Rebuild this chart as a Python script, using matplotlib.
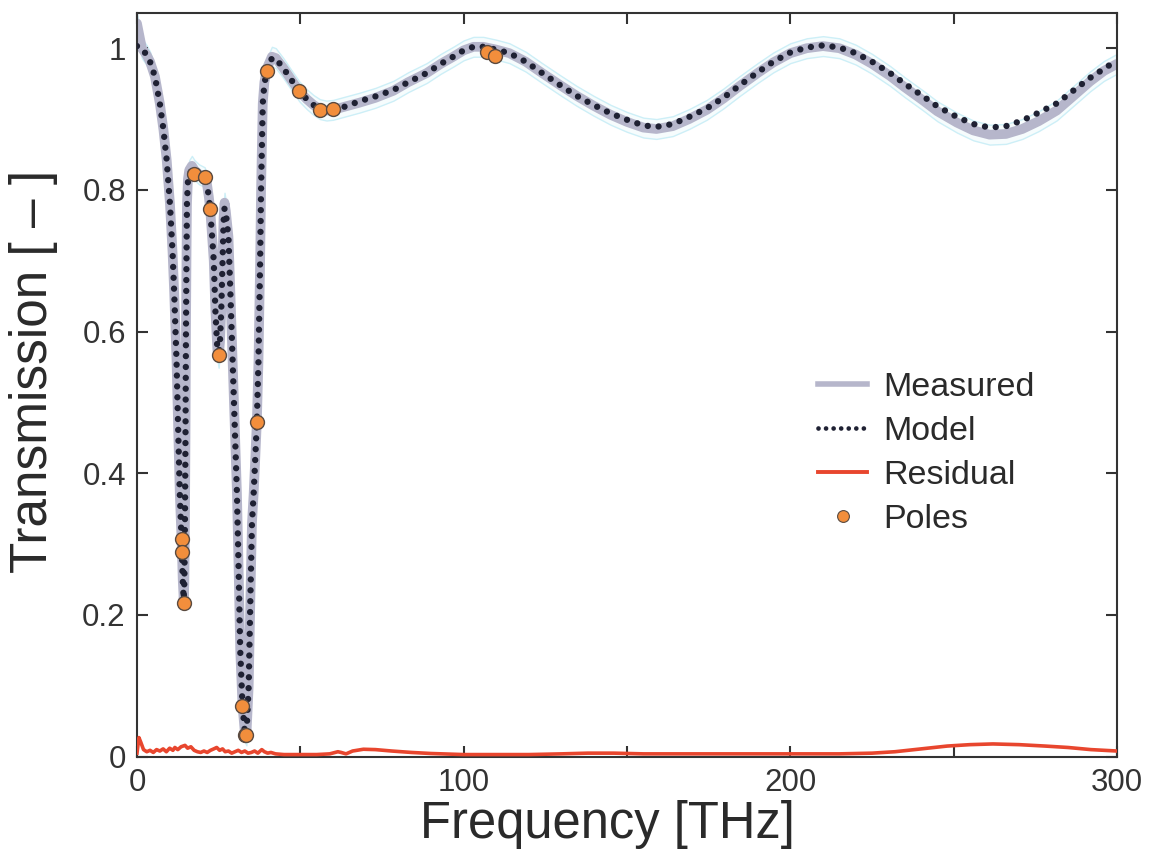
import matplotlib
matplotlib.use("Agg")
import matplotlib.pyplot as plt
from matplotlib.lines import Line2D

plt.rcParams['font.family'] = ['Liberation Sans', 'DejaVu Sans']

# ---------------- data ----------------
freq = [0, 1.5, 3, 4, 5.5, 7, 8.1, 9.1, 10.1, 10.9, 11.4, 12.1, 12.6, 13.1, 13.7,
        14.0, 14.3, 14.5, 14.7, 14.85, 15.0, 15.15, 15.3, 15.6, 16.0, 16.8, 17.6,
        19.0, 20.7, 21.4, 22.0, 22.4, 23.0, 23.5, 24.0, 24.6, 25.0, 25.4, 25.8,
        26.2, 26.5, 26.8, 27.2, 28.0, 28.6, 29.6, 30.6, 31.1, 31.6, 32.3, 33.0,
        33.5, 34.2, 34.7, 35.2, 35.7, 36.2, 36.7, 37.2, 37.7, 38.0, 38.5, 39.0,
        39.8, 41.3, 42.5, 44.8, 47, 49.7, 52, 54, 56, 58, 60, 64, 68, 73, 78.5,
        83, 88.7, 93, 96.8, 100, 103, 106, 110, 114, 119, 124, 129.5, 134.5,
        139.7, 145, 150, 155, 159, 164, 169, 174.4, 179.5, 184.6, 190, 194.8,
        200, 205, 210, 215, 220, 225, 230.5, 235, 240.7, 245, 251, 256, 261,
        266, 271, 276, 281.5, 286, 291.7, 296, 300]

model = [1.003, 1.000, 0.990, 0.981, 0.960, 0.922, 0.885, 0.842, 0.780, 0.711,
         0.654, 0.560, 0.465, 0.372, 0.300, 0.250, 0.222, 0.245, 0.340, 0.450,
         0.600, 0.700, 0.780, 0.812, 0.822, 0.828, 0.824, 0.822, 0.818, 0.809,
         0.790, 0.773, 0.734, 0.700, 0.630, 0.575, 0.563, 0.585, 0.630, 0.700,
         0.755, 0.774, 0.768, 0.734, 0.654, 0.513, 0.372, 0.268, 0.151, 0.072,
         0.035, 0.030, 0.100, 0.220, 0.330, 0.370, 0.420, 0.473, 0.560, 0.700,
         0.805, 0.922, 0.950, 0.968, 0.986, 0.985, 0.972, 0.957, 0.939, 0.928,
         0.920, 0.914, 0.912, 0.913, 0.918, 0.925, 0.932, 0.941, 0.952, 0.965,
         0.978, 0.988, 0.997, 1.002, 1.002, 0.998, 0.993, 0.981, 0.965, 0.948,
         0.933, 0.920, 0.908, 0.899, 0.891, 0.889, 0.893, 0.903, 0.915, 0.930,
         0.948, 0.966, 0.981, 0.994, 1.001, 1.004, 1.001, 0.993, 0.981, 0.965,
         0.950, 0.932, 0.918, 0.903, 0.893, 0.888, 0.890, 0.898, 0.909, 0.922,
         0.938, 0.958, 0.971, 0.983]

measured = [1.035, 1.000, 0.990, 0.981, 0.960, 0.922, 0.885, 0.842, 0.780, 0.711,
            0.654, 0.560, 0.465, 0.372, 0.300, 0.250, 0.222, 0.245, 0.340, 0.450,
            0.600, 0.700, 0.780, 0.815, 0.828, 0.834, 0.828, 0.822, 0.818, 0.809,
            0.790, 0.773, 0.734, 0.700, 0.630, 0.575, 0.563, 0.585, 0.630, 0.700,
            0.760, 0.782, 0.770, 0.734, 0.654, 0.513, 0.372, 0.268, 0.151, 0.072,
            0.035, 0.030, 0.100, 0.220, 0.330, 0.370, 0.420, 0.473, 0.560, 0.700,
            0.805, 0.922, 0.952, 0.972, 0.988, 0.986, 0.972, 0.957, 0.939, 0.928,
            0.920, 0.914, 0.912, 0.913, 0.918, 0.923, 0.930, 0.940, 0.952, 0.965,
            0.978, 0.988, 0.997, 1.002, 1.002, 0.998, 0.993, 0.981, 0.965, 0.948,
            0.933, 0.919, 0.906, 0.896, 0.888, 0.886, 0.890, 0.900, 0.913, 0.929,
            0.947, 0.965, 0.980, 0.993, 1.000, 1.003, 1.000, 0.991, 0.978, 0.961,
            0.945, 0.926, 0.911, 0.895, 0.884, 0.878, 0.879, 0.886, 0.897, 0.912,
            0.930, 0.953, 0.968, 0.978]

res_freq = [0, 0.6, 1.2, 2, 3, 4, 5, 6, 7, 8, 9, 10, 11, 11.6, 12.5, 13.5, 14.7,
            15.5, 16.5, 17.5, 18.5, 19.5, 20.5, 21.5, 22.5, 23.5, 24.4, 25.3,
            26.2, 27, 28, 29, 30, 31, 32, 33, 34, 35, 36, 37, 38.2, 39, 40, 41,
            42.4, 45, 50, 55, 59, 61.5, 62.5, 64, 66, 69.3, 73, 78, 84, 90, 100,
            110, 120, 130, 138, 146, 155, 165, 175, 185, 195, 205, 215, 225, 232,
            240, 248, 255, 262, 270, 278, 285, 292, 300]
residual = [0.005, 0.027, 0.020, 0.010, 0.007, 0.009, 0.006, 0.010, 0.008, 0.011,
            0.007, 0.012, 0.009, 0.013, 0.010, 0.014, 0.016, 0.012, 0.014, 0.009,
            0.007, 0.006, 0.008, 0.006, 0.009, 0.011, 0.013, 0.009, 0.011, 0.007,
            0.008, 0.005, 0.007, 0.009, 0.006, 0.008, 0.005, 0.006, 0.008, 0.005,
            0.010, 0.007, 0.005, 0.006, 0.004, 0.003, 0.003, 0.003, 0.004, 0.007,
            0.006, 0.004, 0.008, 0.0105, 0.010, 0.008, 0.006, 0.0045, 0.003,
            0.003, 0.003, 0.004, 0.005, 0.005, 0.004, 0.004, 0.004, 0.004, 0.004,
            0.004, 0.004, 0.005, 0.007, 0.011, 0.015, 0.017, 0.018, 0.017, 0.015,
            0.013, 0.010, 0.008]

pole_freq = [13.7, 13.7, 14.3, 17.6, 20.7, 22.4, 25.0, 32.3, 33.1, 33.5, 36.7,
             39.7, 49.7, 56.0, 60.1, 107.0, 109.6]
pole_T = [0.307, 0.289, 0.217, 0.822, 0.818, 0.773, 0.567, 0.072, 0.031, 0.030,
          0.473, 0.968, 0.940, 0.913, 0.914, 0.994, 0.989]

band_halfwidth = 0.014
xticks = [0, 50, 100, 150, 200, 250, 300]
xticklabels = ['0', '', '100', '', '200', '', '300']
yticks = [0, 0.2, 0.4, 0.6, 0.8, 1.0]
yticklabels = ['0', '0.2', '0.4', '0.6', '0.8', '1']

# ---------------- figure ----------------
fig = plt.figure(figsize=(11.53, 8.59), dpi=100)
ax = fig.add_axes([0.1188, 0.1191, 0.85, 0.8660])

lower = [m - band_halfwidth for m in measured]
upper = [m + band_halfwidth for m in measured]
ax.fill_between(freq, lower, upper, facecolor='#f6fcfd', edgecolor='#cdeff7',
                linewidth=1.0, zorder=1)
ax.plot(freq, measured, color='#b6b6cb', lw=7, solid_capstyle='round', zorder=2)
ax.plot(res_freq, residual, color='#e8462e', lw=2.6, zorder=3)
ax.plot(freq, model, color='#1f2133', lw=4.6, dashes=(0.001, 1.7),
        dash_capstyle='round', zorder=4)
ax.plot(pole_freq, pole_T, 'o', ms=10, mfc='#f28e3c', mec='#5a4a40', mew=1.0,
        zorder=5)

ax.set_xlim(0, 300)
ax.set_ylim(0, 1.05)
ax.set_xticks(xticks)
ax.set_xticklabels(xticklabels)
ax.set_yticks(yticks)
ax.set_yticklabels(yticklabels)
ax.tick_params(direction='in', length=8, width=1.5, top=True, right=True,
               labelsize=22.5, colors='#333333', pad=8)
for s in ax.spines.values():
    s.set_linewidth(1.5)
    s.set_color('#333333')

ax.set_xlabel('Frequency [THz]', fontsize=36.5, color='#2a2a2a')
ax.set_ylabel('Transmission [ – ]', fontsize=37, color='#2a2a2a')
ax.xaxis.set_label_coords(0.48, -0.058)
ax.yaxis.set_label_coords(-0.081, 0.518)

handles = [
    Line2D([], [], color='#b6b6cb', lw=4),
    Line2D([], [], color='#1f2133', lw=3.4, dashes=(0.001, 1.6), dash_capstyle='round'),
    Line2D([], [], color='#e8462e', lw=2.8),
    Line2D([], [], ls='none', marker='o', ms=8.5, mfc='#f28e3c', mec='#5a4a40', mew=0.8),
]
ax.legend(handles, ['Measured', 'Model', 'Residual', 'Poles'], loc='center left',
          bbox_to_anchor=(0.695, 0.408), frameon=False, fontsize=24.5,
          handlelength=1.45, handletextpad=0.45, labelspacing=0.38,
          borderpad=0, borderaxespad=0, labelcolor='#2a2a2a')

fig.savefig('out.png', dpi=100)
